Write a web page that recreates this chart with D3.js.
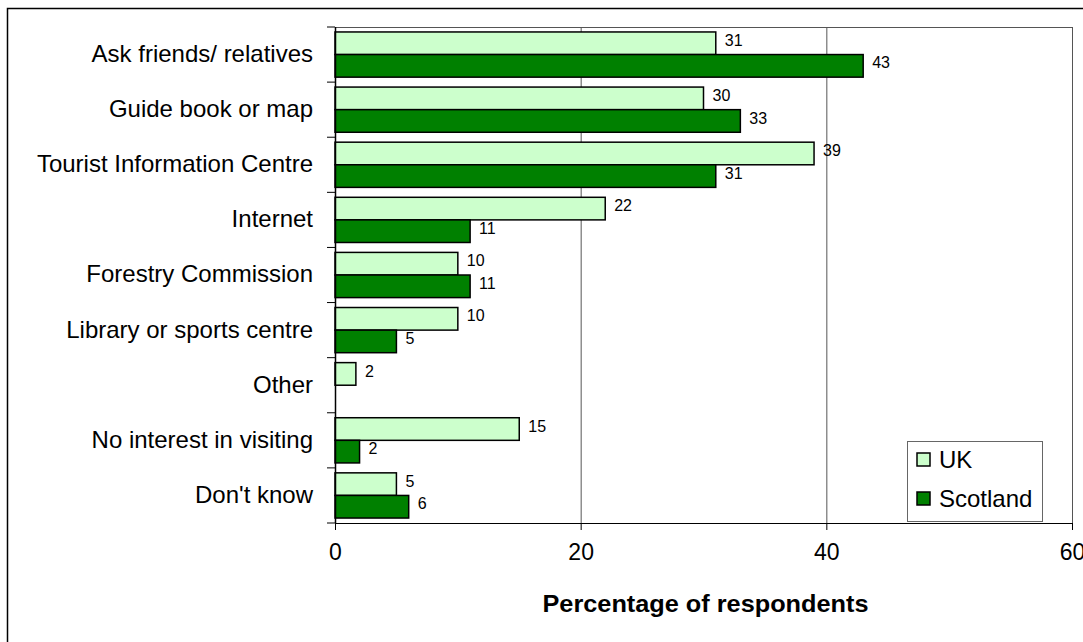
<!DOCTYPE html>
<html>
<head>
<meta charset="utf-8">
<script src="https://cdn.jsdelivr.net/npm/d3@7"></script>
<style>
  body { margin: 0; background: #fff; }
  svg { display: block; font-family: "Liberation Sans", Arial, sans-serif; }
</style>
</head>
<body>
<svg id="chart"></svg>
<script>
var width = 1083;
var height = 642;

// data
var categories = [
    'Ask friends/ relatives',
    'Guide book or map',
    'Tourist Information Centre',
    'Internet',
    'Forestry Commission',
    'Library or sports centre',
    'Other',
    'No interest in visiting',
    "Don't know"
];
var seriesNames = ['UK', 'Scotland'];
var ukValues = [31, 30, 39, 22, 10, 10, 1.7, 15, 5];
var scotlandValues = [43, 33, 31, 11, 11, 5, null, 2, 6];
var xTicks = [0, 20, 40, 60];
var seriesColors = ['#ccffcc', '#008000'];

var plot = { left: 335, right: 1072, top: 27, bottom: 523 };

var svg = d3.select('#chart')
    .attr('width', width)
    .attr('height', height);

// outer frame
svg.append('rect')
    .attr('x', 7.5)
    .attr('y', 8.5)
    .attr('width', width + 10)
    .attr('height', height + 10)
    .attr('fill', 'none')
    .attr('stroke', '#000')
    .attr('stroke-width', 1.5);

var x = d3.scaleLinear()
    .domain([0, 60])
    .range([plot.left, plot.right]);

var y = d3.scaleBand()
    .domain(categories)
    .range([plot.top, plot.bottom])
    .paddingInner(0.18)
    .paddingOuter(0.09);

var ySub = d3.scaleBand()
    .domain(seriesNames)
    .range([0, y.bandwidth()]);

// gridlines + plot border
svg.append('g')
    .selectAll('line')
    .data(xTicks.slice(1))
    .enter().append('line')
    .attr('x1', function (d) { return x(d) + 0.5; })
    .attr('x2', function (d) { return x(d) + 0.5; })
    .attr('y1', plot.top)
    .attr('y2', plot.bottom)
    .attr('stroke', '#555')
    .attr('stroke-width', 1);

svg.append('line')
    .attr('x1', plot.left)
    .attr('x2', plot.right + 0.5)
    .attr('y1', plot.top + 0.5)
    .attr('y2', plot.top + 0.5)
    .attr('stroke', '#555');

// bars
var rows = categories.map(function (c, i) {
    return { cat: c, values: [ukValues[i], scotlandValues[i]] };
});

var groups = svg.append('g')
    .selectAll('g')
    .data(rows)
    .enter().append('g')
    .attr('transform', function (d) { return 'translate(0,' + y(d.cat) + ')'; });

var bars = groups.selectAll('g')
    .data(function (d) {
        return d.values.map(function (v, j) { return { name: seriesNames[j], value: v, idx: j }; })
            .filter(function (e) { return e.value != null; });
    })
    .enter().append('g');

bars.append('rect')
    .attr('x', x(0))
    .attr('y', function (d) { return ySub(d.name); })
    .attr('width', function (d) { return x(d.value) - x(0); })
    .attr('height', ySub.bandwidth())
    .attr('fill', function (d) { return seriesColors[d.idx]; })
    .attr('stroke', '#000')
    .attr('stroke-width', 1.5);

bars.append('text')
    .attr('x', function (d) { return x(d.value) + 9; })
    .attr('y', function (d) { return ySub(d.name) + ySub.bandwidth() / 2 - 3; })
    .attr('dy', '0.35em')
    .attr('font-size', 16)
    .attr('fill', '#000')
    .text(function (d) { return d3.format('.0f')(d.value); });

// x axis
var xAxis = svg.append('g')
    .attr('transform', 'translate(0,' + plot.bottom + ')')
    .call(d3.axisBottom(x).tickValues(xTicks).tickSize(7).tickPadding(14).tickFormat(d3.format('d')));
xAxis.select('.domain').attr('stroke', '#000').attr('d', 'M' + plot.left + ',0.5H' + (plot.right + 0.5));
xAxis.selectAll('.tick line').attr('stroke', '#000');
xAxis.selectAll('.tick text')
    .attr('font-size', 23)
    .attr('font-family', '"Liberation Sans", Arial, sans-serif')
    .attr('fill', '#000');

// y axis: ticks at band boundaries
var yAxis = svg.append('g');
yAxis.append('line')
    .attr('x1', plot.left + 0.5)
    .attr('x2', plot.left + 0.5)
    .attr('y1', plot.top)
    .attr('y2', plot.bottom)
    .attr('stroke', '#000')
    .attr('stroke-width', 1.5);

var boundaries = d3.range(categories.length + 1).map(function (i) {
    return plot.top + i * y.step();
});
yAxis.selectAll('line.tick')
    .data(boundaries)
    .enter().append('line')
    .attr('class', 'tick')
    .attr('x1', plot.left - 8)
    .attr('x2', plot.left)
    .attr('y1', function (d) { return d; })
    .attr('y2', function (d) { return d; })
    .attr('stroke', '#000');

yAxis.selectAll('text')
    .data(categories)
    .enter().append('text')
    .attr('x', 313)
    .attr('y', function (d) { return y(d) + y.bandwidth() / 2 - 1; })
    .attr('dy', '0.35em')
    .attr('text-anchor', 'end')
    .attr('font-size', 24)
    .attr('fill', '#000')
    .text(function (d) { return d; });

// axis title
svg.append('text')
    .attr('x', (plot.left + plot.right) / 2 + 2)
    .attr('y', 612)
    .attr('text-anchor', 'middle')
    .attr('font-size', 24)
    .attr('font-weight', 'bold')
    .attr('textLength', 326)
    .attr('lengthAdjust', 'spacingAndGlyphs')
    .attr('fill', '#000')
    .text('Percentage of respondents');

// legend
var legend = svg.append('g').attr('transform', 'translate(907,441)');
legend.append('rect')
    .attr('x', 0.5)
    .attr('y', 0.5)
    .attr('width', 135)
    .attr('height', 80)
    .attr('fill', '#fff')
    .attr('stroke', '#666');

var items = legend.selectAll('g')
    .data(seriesNames)
    .enter().append('g')
    .attr('transform', function (d, i) { return 'translate(10,' + (19 + i * 39) + ')'; });

items.append('rect')
    .attr('x', 0)
    .attr('y', -7)
    .attr('width', 13)
    .attr('height', 13)
    .attr('fill', function (d, i) { return seriesColors[i]; })
    .attr('stroke', '#000')
    .attr('stroke-width', 1.5);

items.append('text')
    .attr('x', 22)
    .attr('y', 0)
    .attr('dy', '0.35em')
    .attr('font-size', 24)
    .attr('fill', '#000')
    .text(function (d) { return d; });
</script>
</body>
</html>
